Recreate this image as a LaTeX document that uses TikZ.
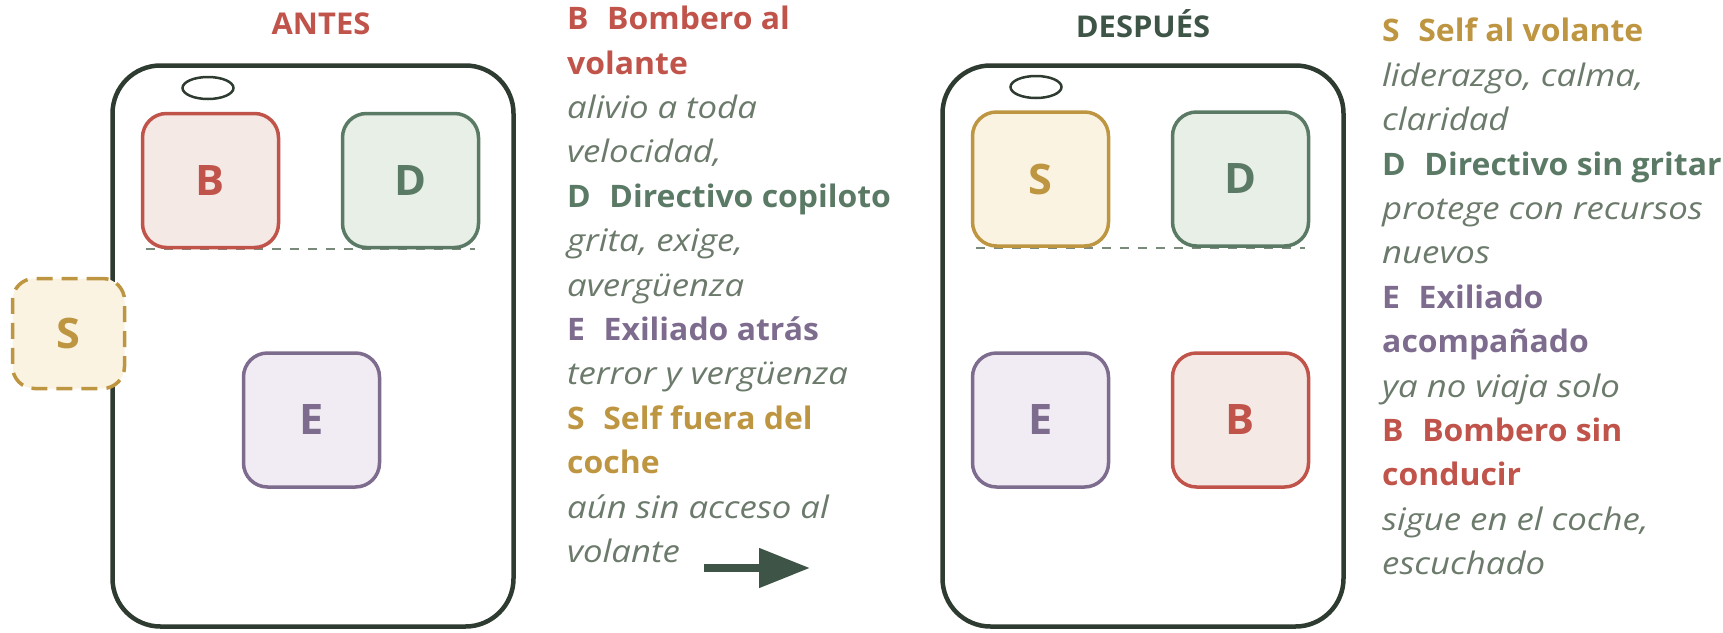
\documentclass[tikz,border=0pt]{standalone}
\usepackage{fontspec}
\setmainfont{Open Sans}[BoldFeatures={FakeStretch=1.03},ItalicFeatures={FakeStretch=1.12}]
\usetikzlibrary{positioning,shapes.geometric,backgrounds,arrows.meta}

\definecolor{bombero}{HTML}{C0534A}
\definecolor{bomberofill}{HTML}{F5E9E6}
\definecolor{directivo}{HTML}{5B7A65}
\definecolor{directivofill}{HTML}{E8EFE7}
\definecolor{self}{HTML}{BE9541}
\definecolor{selffill}{HTML}{FAF3E2}
\definecolor{exiliado}{HTML}{7E6C8F}
\definecolor{exiliadofill}{HTML}{F1ECF3}
\definecolor{carline}{HTML}{2E3B30}
\definecolor{seatline}{HTML}{7A8A7A}
\definecolor{note}{HTML}{6B7A6B}
\definecolor{despues}{HTML}{3E5446}

\begin{document}
\begin{tikzpicture}[x=1pt,y=-1pt,
    car/.style={draw=carline,line width=4.5pt,rounded corners=48pt,minimum width=401pt,minimum height=561pt},
    mirror/.style={draw=carline,ellipse,line width=2.5pt,minimum width=51pt,minimum height=22pt,inner sep=0pt},
    part/.style={line width=3.5pt,rounded corners=24pt,minimum width=136pt,minimum height=134pt,font=\fontsize{42}{42}\selectfont\bfseries},
    title/.style={font=\fontsize{30}{30}\selectfont\bfseries},
    notes/.style={align=left,anchor=north west,inner sep=0pt,font=\fontsize{31}{44.4}\selectfont},
    seat/.style={draw=seatline,line width=2pt,dash pattern=on 9pt off 9pt}]
    \useasboundingbox (0,0) rectangle (1723,632);

    \coordinate (L) at (313,346);
    \coordinate (R) at (1143,346);

    % antes
    \node[title,text=bombero] (antes) at (321,24) {ANTES};
    \node[car] (carL) at (L) {};
    \node[mirror] (mirrorL) at (208,88) {};
    \node[part,draw=bombero,fill=bomberofill,text=bombero] (BL) at (210.5,180.5) {B};
    \node[part,draw=directivo,fill=directivofill,text=directivo] (DL) at (410.5,180.5) {D};
    \node[part,draw=exiliado,fill=exiliadofill,text=exiliado] (EL) at (311.5,420) {E};
    \node[part,draw=self,fill=selffill,text=self,dash pattern=on 16pt off 9pt,rounded corners=22pt,
        minimum width=112pt,minimum height=110pt] (SL) at (68.5,333.5) {S};
    \begin{pgfonlayer}{background}
        \draw[seat] ([xshift=5pt]BL.south west) -- ([xshift=-5pt]DL.south east);
    \end{pgfonlayer}

    \node[notes] (notesL) at (567,6) {%
        \textcolor{bombero}{\bfseries B\hspace{.6em}Bombero al}\\
        \textcolor{bombero}{\bfseries volante}\\
        \textcolor{note}{\itshape alivio a toda}\\
        \textcolor{note}{\itshape velocidad,}\\
        \textcolor{directivo}{\bfseries D\hspace{.6em}Directivo copiloto}\\
        \textcolor{note}{\itshape grita, exige,}\\
        \textcolor{note}{\itshape avergüenza}\\
        \textcolor{exiliado}{\bfseries E\hspace{.6em}Exiliado atrás}\\
        \textcolor{note}{\itshape terror y vergüenza}\\
        \textcolor{self}{\bfseries S\hspace{.6em}Self fuera del}\\
        \textcolor{self}{\bfseries coche}\\
        \textcolor{note}{\itshape aún sin acceso al}\\
        \textcolor{note}{\itshape volante}};

    \coordinate (arrowstart) at (704,568);
    \coordinate (arrowend) at (810,568);
    \draw[despues,line width=8pt,-{Triangle[length=51pt,width=38pt]}] (arrowstart) -- (arrowend);

    % despues
    \node[title,text=despues] (despues) at (1143,24) {DESPUÉS};
    \node[car] (carR) at (R) {};
    \node[mirror] (mirrorR) at (1036,87) {};
    \node[part,draw=self,fill=selffill,text=self] (SR) at (1040.5,179) {S};
    \node[part,draw=directivo,fill=directivofill,text=directivo] (DR) at (1240.5,179) {D};
    \node[part,draw=exiliado,fill=exiliadofill,text=exiliado] (ER) at (1040.5,420) {E};
    \node[part,draw=bombero,fill=bomberofill,text=bombero] (BR) at (1240.5,420) {B};
    \begin{pgfonlayer}{background}
        \draw[seat] ([xshift=5pt]SR.south west) -- ([xshift=-5pt]DR.south east);
    \end{pgfonlayer}

    \node[notes] (notesR) at (1382,18) {%
        \textcolor{self}{\bfseries S\hspace{.6em}Self al volante}\\
        \textcolor{note}{\itshape liderazgo, calma,}\\
        \textcolor{note}{\itshape claridad}\\
        \textcolor{directivo}{\bfseries D\hspace{.6em}Directivo sin gritar}\\
        \textcolor{note}{\itshape protege con recursos}\\
        \textcolor{note}{\itshape nuevos}\\
        \textcolor{exiliado}{\bfseries E\hspace{.6em}Exiliado}\\
        \textcolor{exiliado}{\bfseries acompañado}\\
        \textcolor{note}{\itshape ya no viaja solo}\\
        \textcolor{bombero}{\bfseries B\hspace{.6em}Bombero sin}\\
        \textcolor{bombero}{\bfseries conducir}\\
        \textcolor{note}{\itshape sigue en el coche,}\\
        \textcolor{note}{\itshape escuchado}};
\end{tikzpicture}
\end{document}
